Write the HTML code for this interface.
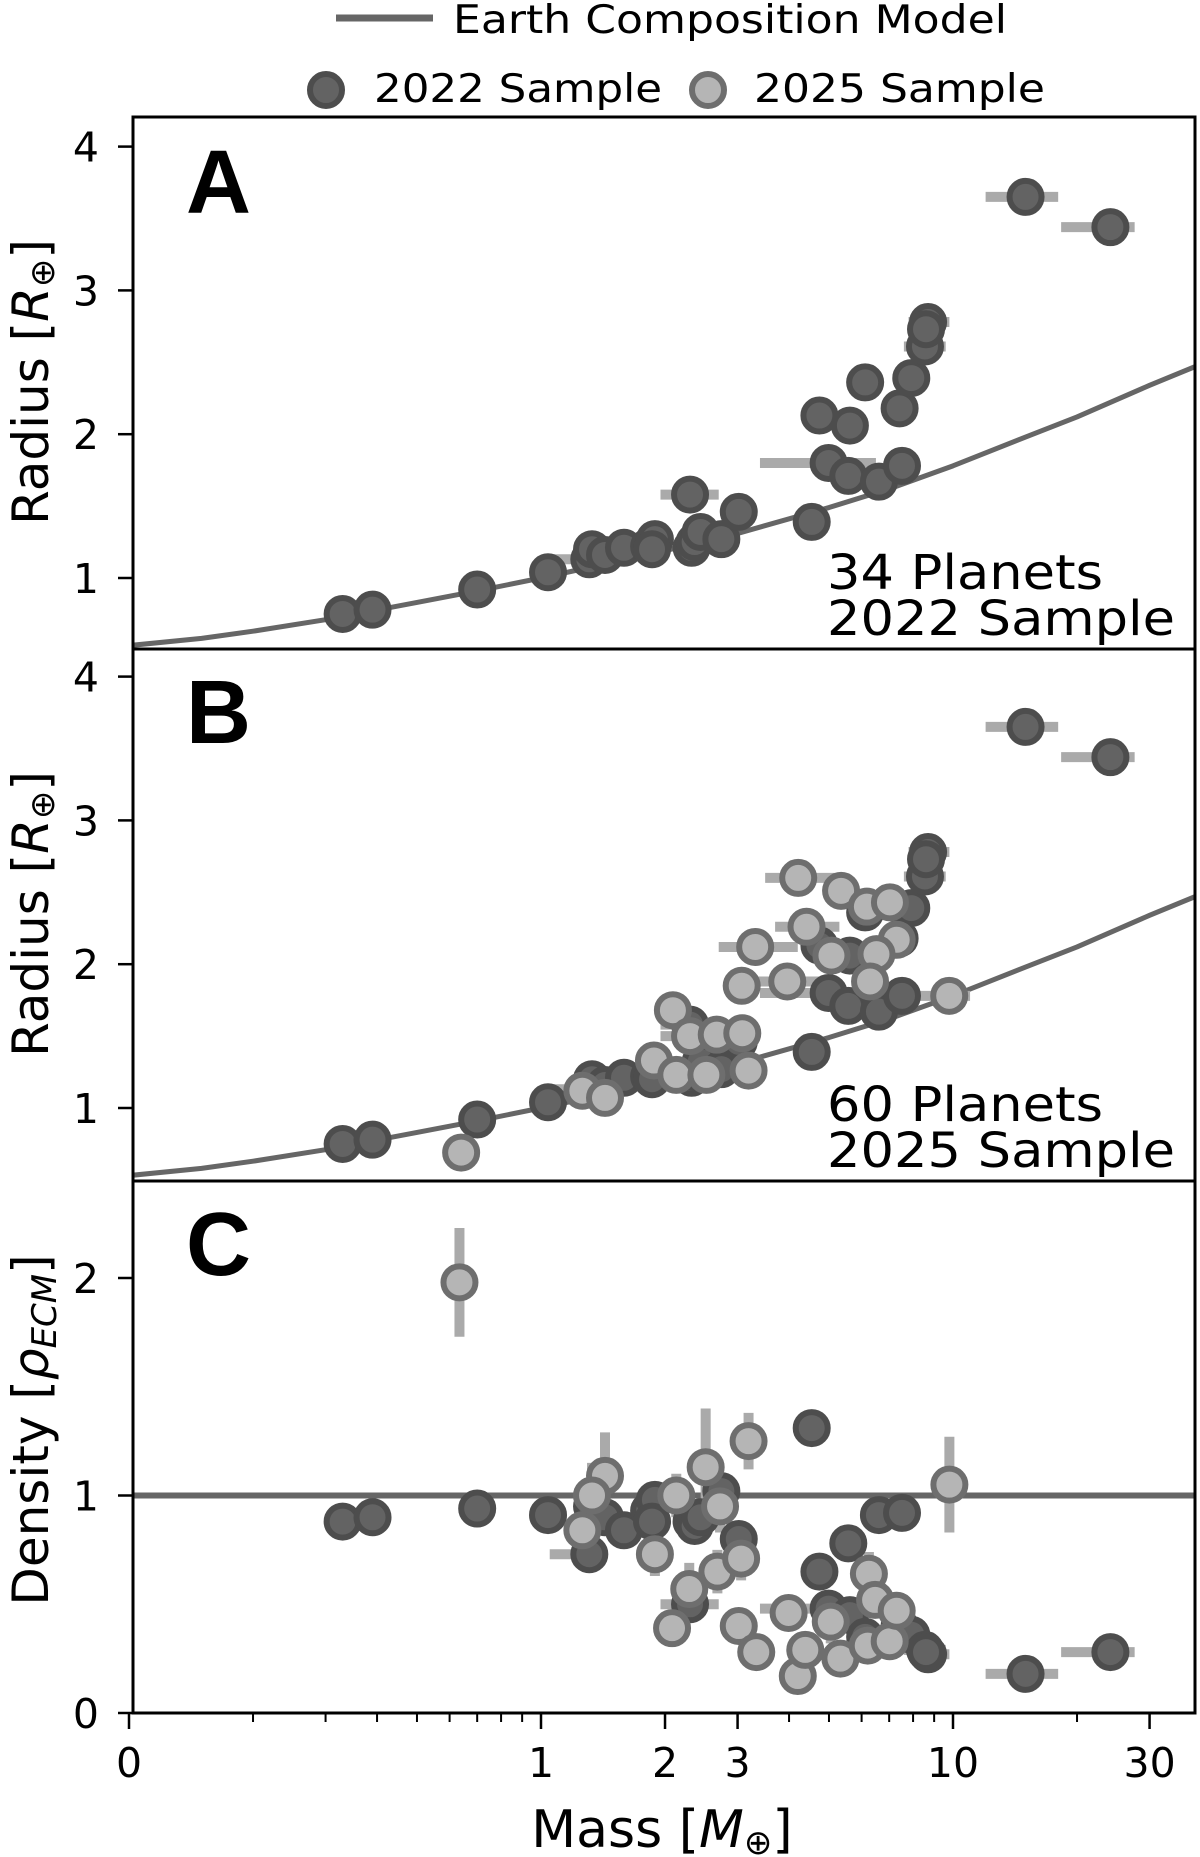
<!DOCTYPE html>
<html><head><meta charset="utf-8"><style>
body{margin:0;background:#fff}
svg{display:block}
text{font-family:"DejaVu Sans","Liberation Sans",sans-serif;fill:#000}
</style></head><body>
<svg id="chart" width="1200" height="1857" viewBox="0 0 1200 1857" xmlns="http://www.w3.org/2000/svg">
<g>
<line x1="336" y1="18" x2="433" y2="18" stroke="#666" stroke-width="7"/>
<text x="453" y="33" font-size="39" textLength="554" lengthAdjust="spacingAndGlyphs">Earth Composition Model</text>
<circle cx="326" cy="90" r="16" fill="#636363" stroke="#4d4d4d" stroke-width="6"/>
<text x="374" y="102" font-size="39" textLength="288" lengthAdjust="spacingAndGlyphs">2022 Sample</text>
<circle cx="708" cy="90" r="16" fill="#b5b5b5" stroke="#6e6e6e" stroke-width="6"/>
<text x="754" y="102" font-size="39" textLength="291" lengthAdjust="spacingAndGlyphs">2025 Sample</text>
</g>
<g id="plots"></g>
</svg>
<script>
// Earth composition model (mass, radius)
const modelMass = [0.1, 0.15, 0.2, 0.3, 0.5, 0.7, 1, 1.5, 2, 3, 5, 7, 10, 15, 20, 30, 38.7];
const modelRadius = [0.53, 0.58, 0.63, 0.71, 0.83, 0.91, 1.0, 1.11, 1.19, 1.31, 1.49, 1.62, 1.78, 1.98, 2.12, 2.34, 2.47];
// 2022 sample
const m22 = [0.33,0.39,0.70,1.04,1.31,1.33,1.43,1.59,1.83,1.89,1.86,2.30,2.32,2.36,2.44,2.74,3.02,4.54,4.74,4.99,5.62,5.57,6.12,6.61,7.42,7.52,7.92,8.55,8.70,8.60,15.0,24.1];
const r22 = [0.75,0.78,0.92,1.04,1.13,1.20,1.16,1.21,1.22,1.27,1.20,1.58,1.21,1.25,1.32,1.27,1.46,1.39,2.13,1.80,2.06,1.71,2.36,1.67,2.18,1.78,2.39,2.61,2.78,2.73,3.65,3.44];
const rho22 = [0.88,0.90,0.94,0.91,0.73,0.95,0.90,0.84,0.93,0.98,0.88,0.50,0.88,0.86,0.90,1.02,0.80,1.31,0.65,0.48,0.45,0.78,0.35,0.91,0.40,0.92,0.36,0.29,0.27,0.28,0.18,0.28];
const m22lo = [0,0,0,0,1.05,0,0,0,0,0,0,1.95,0,0,0,0,0,0,0,3.4,0,0,0,0,0,0,0,7.6,7.8,0,12,18.3];
const m22hi = [0,0,0,0,1.28,0,0,0,0,0,0,2.7,0,0,0,0,0,0,0,6.5,0,0,0,0,0,0,0,9.6,9.8,0,18,27.6];
// 2025 sample (radius panel)
const m25 = [0.64,1.26,1.43,2.09,1.88,2.13,2.30,2.52,2.67,3.08,3.19,3.07,3.31,3.96,4.21,4.41,5.07,5.35,6.18,7.03,7.30,6.52,6.29,9.79];
const r25 = [0.69,1.12,1.07,1.68,1.33,1.23,1.50,1.23,1.51,1.52,1.26,1.85,2.12,1.88,2.60,2.26,2.06,2.51,2.40,2.43,2.17,2.07,1.88,1.78];
const m25lo = [0,1.1,0,0,0,0,1.95,0,0,2.7,0,0,2.7,3.2,3.5,3.7,0,0,0,0,6.6,0,0,8.3];
const m25hi = [0,1.4,0,0,0,0,2.6,0,0,3.4,0,0,4.2,4.8,5.3,5.3,0,0,0,0,8.0,0,0,11];
// 2025 sample (density panel)
const m25c = [0.634,1.43,1.26,1.33,1.89,2.13,2.29,2.08,2.51,2.72,2.68,3.19,3.06,3.02,3.33,3.99,4.20,4.38,5.05,5.33,6.25,6.47,6.21,7.02,7.30,9.80];
const rho25 = [1.98,1.09,0.84,1.00,0.73,1.00,0.57,0.39,1.13,0.95,0.65,1.25,0.71,0.40,0.28,0.46,0.17,0.29,0.42,0.25,0.64,0.52,0.31,0.33,0.47,1.05];
const rho25err = [0.25,0.2,0.12,0.15,0.1,0.1,0.12,0.06,0.27,0.12,0.1,0.13,0.1,0.06,0.05,0.06,0.04,0.05,0.1,0.05,0.1,0.08,0.05,0.06,0.08,0.22];
const xTickVals = [0.1,1,2,3,10,30];
const xTickLabels = ["0","1","2","3","10","30"];
const xMinorVals = [0.2,0.3,0.4,0.5,0.6,0.7,0.8,0.9,4,5,6,7,8,9,20];
const rTicks = [1,2,3,4];
const dTicks = [0,1,2];

const NS="http://www.w3.org/2000/svg";
const root=document.getElementById('plots');
const L=133,R=1195;
const X=m=>541+412*Math.log10(m);
const panels=[
 {name:'panel-a',top:117,bot:649,y:v=>578-143.8*(v-1)},
 {name:'panel-b',top:649,bot:1181,y:v=>1108-143.8*(v-1)},
 {name:'panel-c',top:1181,bot:1713,y:v=>1713-217.5*v}
];
function el(tag,attrs,parent){const e=document.createElementNS(NS,tag);for(const k in attrs)e.setAttribute(k,attrs[k]);(parent||root).appendChild(e);return e;}
function grp(name,parent){const g=document.createElementNS(NS,'g');


(parent||root).appendChild(g);return g;}
function dot(g,x,y,dark){const c=el('circle',{cx:x,cy:y,r:16,fill:dark?'#636363':'#b5b5b5',stroke:dark?'#4d4d4d':'#6e6e6e','stroke-width':6},g);

}
function hbar(g,lo,hi,y){const l=el('line',{x1:X(lo),x2:X(hi),y1:y,y2:y,stroke:'#aaa','stroke-width':10},g);

}
function vbar(g,x,y1,y2){const l=el('line',{x1:x,x2:x,y1:y1,y2:y2,stroke:'#aaa','stroke-width':10},g);

}

panels.forEach((p,pi)=>{
 const g=grp(p.name);
 const defs=el('clipPath',{id:'clip'+pi},g);
 el('rect',{x:L,y:p.top,width:R-L,height:p.bot-p.top},defs);
 const inner=grp(p.name+'-marks',g);inner.setAttribute('clip-path','url(#clip'+pi+')');
 if(pi<2){
  const pts=modelMass.map((m,i)=>X(m)+','+p.y(modelRadius[i])).join(' ');
  const pl=el('polyline',{points:pts,fill:'none',stroke:'#666','stroke-width':5,'stroke-linejoin':'round'},inner);
  
  
  m22.forEach((m,i)=>{if(m22lo[i])hbar(inner,m22lo[i],m22hi[i],p.y(r22[i]));});
  if(pi==1) m25.forEach((m,i)=>{if(m25lo[i])hbar(inner,m25lo[i],m25hi[i],p.y(r25[i]));});
  m22.forEach((m,i)=>dot(inner,X(m),p.y(r22[i]),true));
  if(pi==1) m25.forEach((m,i)=>dot(inner,X(m),p.y(r25[i]),false));
 } else {
  const hl=el('line',{x1:L,x2:R,y1:p.y(1),y2:p.y(1),stroke:'#666','stroke-width':6},inner);
  
  
  m22.forEach((m,i)=>{if(m22lo[i])hbar(inner,m22lo[i],m22hi[i],p.y(rho22[i]));});
  m25c.forEach((m,i)=>vbar(inner,X(m),p.y(rho25[i]-rho25err[i]),p.y(rho25[i]+rho25err[i])));
  m22.forEach((m,i)=>dot(inner,X(m),p.y(rho22[i]),true));
  m25c.forEach((m,i)=>dot(inner,X(m),p.y(rho25[i]),false));
 }
 const fr=el('rect',{x:L,y:p.top,width:R-L,height:p.bot-p.top,fill:'none',stroke:'#000','stroke-width':3},g);
 
 
 const ticks=pi<2?rTicks:dTicks;
 ticks.forEach(t=>{const y=p.y(t);
  el('line',{x1:L-15,x2:L,y1:y,y2:y,stroke:'#000','stroke-width':2.5},g);
  const tx=el('text',{x:99,y:y+15,'font-size':41,'text-anchor':'end'},g);tx.textContent=t;
  
  });
 const lab=el('text',{x:186,y:[213,743,1275][pi],'font-size':90,'font-weight':'bold',style:'font-family:"Liberation Sans",sans-serif'},g);
 lab.textContent=['A','B','C'][pi];
 
 
 const yl=el('text',{x:0,y:0,'font-size':50,'text-anchor':'middle',transform:`translate(48,${pi<2?p.top+265:1430}) rotate(-90)`},g);
 yl.innerHTML=pi<2?'Radius [<tspan font-style="italic">R</tspan><tspan font-size="34" dy="6">⊕</tspan><tspan dy="-6">]</tspan>':'Density [<tspan font-style="italic">ρ</tspan><tspan font-size="34" font-style="italic" dy="8">ECM</tspan><tspan dy="-8">]</tspan>';
 
 
 if(pi<2){
  const a1=el('text',{x:827,y:p.top+472,'font-size':48,textLength:276,lengthAdjust:'spacingAndGlyphs'},g);
  a1.textContent=pi==0?'34 Planets':'60 Planets';
  
  
  const a2=el('text',{x:827,y:p.top+518,'font-size':48,textLength:348,lengthAdjust:'spacingAndGlyphs'},g);
  a2.textContent=pi==0?'2022 Sample':'2025 Sample';
  
  
 }
});
const xa=grp('x-axis');
xTickVals.forEach((v,i)=>{const x=X(v);
 el('line',{x1:x,x2:x,y1:1713,y2:1729,stroke:'#000','stroke-width':2.5},xa);
 const t=el('text',{x:x,y:1777,'font-size':41,'text-anchor':'middle'},xa);t.textContent=xTickLabels[i];
 
 });
xMinorVals.forEach(v=>{const x=X(v);el('line',{x1:x,x2:x,y1:1713,y2:1722,stroke:'#000','stroke-width':2},xa);});
const xt=el('text',{x:662,y:1847,'font-size':52,'text-anchor':'middle'},xa);
xt.innerHTML='Mass [<tspan font-style="italic">M</tspan><tspan font-size="34" dy="7">⊕</tspan><tspan dy="-7">]</tspan>';


</script>
</body></html>
